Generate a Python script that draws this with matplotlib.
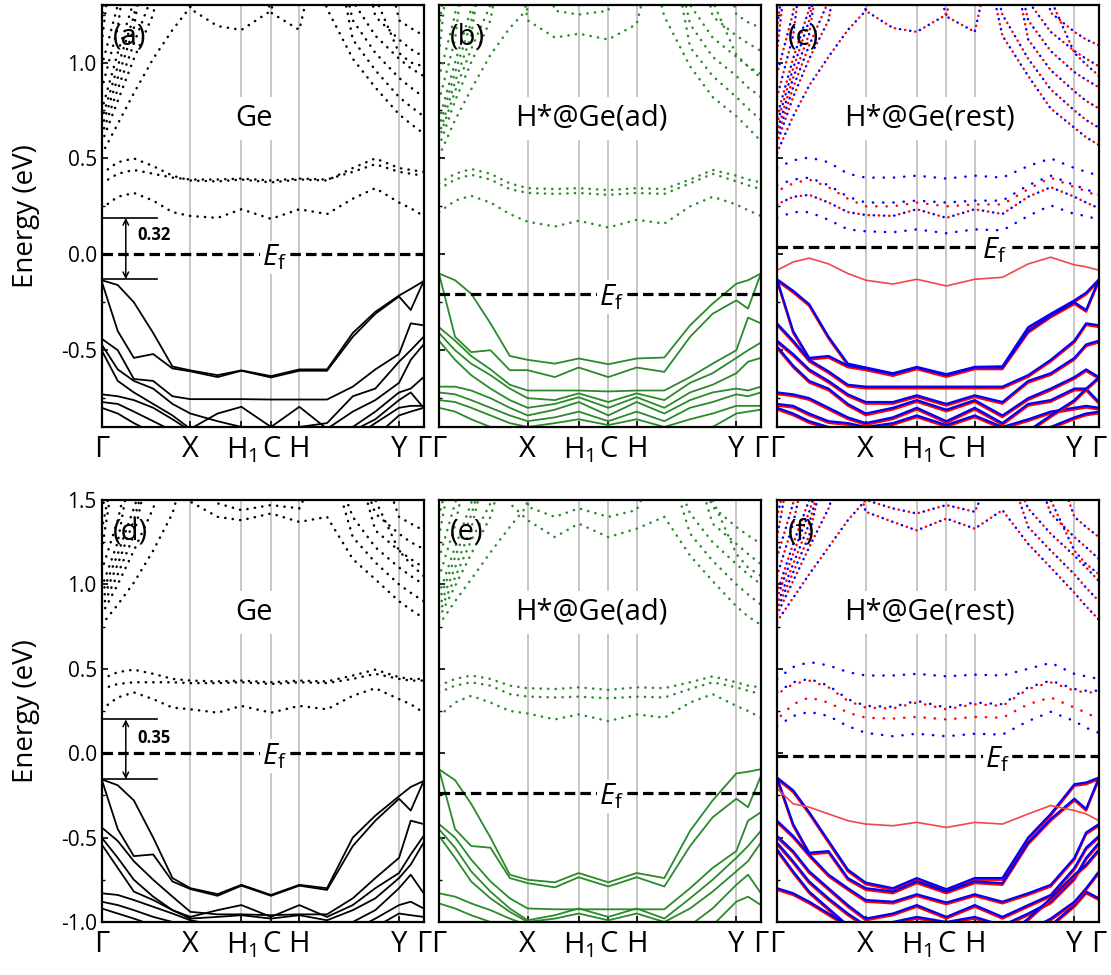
import matplotlib
matplotlib.use('Agg')
import matplotlib.pyplot as plt
import matplotlib.ticker as mticker
from matplotlib.transforms import offset_copy

plt.rcParams['font.family'] = ['Open Sans', 'DejaVu Sans']
plt.rcParams['mathtext.fontset'] = 'custom'
plt.rcParams['mathtext.rm'] = 'Open Sans'
plt.rcParams['mathtext.it'] = 'Open Sans:italic'
plt.rcParams['mathtext.bf'] = 'Open Sans:bold'
plt.rcParams['axes.unicode_minus'] = False

T = 1.8    # band leaves the window at the top
B = -1.1   # band leaves the window at the bottom

# k path (fraction of path length) and high-symmetry points
kpath = [0.0, 0.05, 0.10, 0.16, 0.22, 0.2755, 0.36, 0.434, 0.526, 0.614, 0.70, 0.78, 0.85, 0.9236, 0.96, 1.0]
ksym = [0.0, 0.2755, 0.434, 0.526, 0.614, 0.9236, 1.0]
klabels = ['Γ', 'X', r'H$_\mathregular{1}$', 'C', 'H', 'Y', 'Γ']

names = ['Ge', 'H*@Ge(ad)', 'H*@Ge(rest)']
tags = ['(a)', '(b)', '(c)', '(d)', '(e)', '(f)']
ef_vals = [0.0, -0.208, 0.038, 0.0, -0.238, -0.016]
ef_xpos = [0.537, 0.535, 0.675, 0.537, 0.535, 0.684]
gap_top = [-0.13, 0.19, '0.32']
gap_bot = [-0.155, 0.20, '0.35']

# ---------------- (a) Ge, top row ----------------
ge_top_val = [
    [-0.135, -0.16, -0.25, -0.41, -0.585, -0.605, -0.63, -0.605, -0.635, -0.60, -0.60, -0.41, -0.30, -0.215, -0.18, -0.14],
    [-0.14, -0.40, -0.54, -0.52, -0.595, -0.61, -0.64, -0.607, -0.642, -0.607, -0.607, -0.43, -0.31, -0.22, -0.29, -0.14],
    [-0.44, -0.50, -0.65, -0.66, -0.74, -0.755, -0.755, -0.755, -0.757, -0.757, -0.757, -0.69, -0.60, -0.52, -0.36, -0.37],
    [-0.47, -0.60, -0.66, -0.70, -0.78, -0.83, -0.87, -0.90, -0.92, -0.90, -0.88, -0.74, -0.70, -0.56, -0.50, -0.43],
    [-0.50, -0.66, -0.72, -0.78, -0.84, -0.91, -0.83, -0.795, -0.90, -0.795, -0.91, -0.82, -0.76, -0.67, -0.55, -0.47],
    [-0.73, -0.74, -0.76, -0.80, -0.86, -0.92, -0.95, -0.95, -0.95, -0.95, -0.95, -0.90, -0.82, -0.72, -0.70, -0.64],
    [-0.77, -0.78, -0.82, -0.87, -0.92, -0.96, -0.96, -0.96, -0.96, -0.96, -0.96, -0.96, -0.88, -0.80, -0.79, -0.79],
    [-0.80, -0.83, -0.88, -0.93, -0.96, -0.98, -0.98, -0.98, -0.98, -0.98, -0.98, -0.98, -0.95, -0.84, -0.82, -0.80],
    [B, B, B, B, B, B, B, B, B, B, -0.98, -0.92, -0.86, -0.76, -0.72, -0.80],
]
ge_top_gap = [
    [0.42, 0.48, 0.50, 0.46, 0.41, 0.385, 0.38, 0.39, 0.375, 0.39, 0.385, 0.45, 0.50, 0.45, 0.44, 0.43],
    [0.37, 0.42, 0.44, 0.42, 0.40, 0.39, 0.39, 0.395, 0.385, 0.395, 0.39, 0.43, 0.47, 0.43, 0.42, 0.41],
    [0.24, 0.30, 0.32, 0.28, 0.22, 0.20, 0.19, 0.235, 0.185, 0.235, 0.21, 0.29, 0.345, 0.27, 0.24, 0.20],
]
ge_top_high = [
    [0.52, 0.68, 0.84, 1.02, 1.17, 1.29, T, T, T, T, T, T, T, T, T, T],
    [0.58, 0.80, 1.02, 1.25, T, T, T, T, T, T, T, T, T, T, T, T],
    [0.62, 0.86, 1.10, 1.36, T, T, T, T, T, T, T, T, T, T, T, T],
    [0.66, 0.92, 1.18, T, T, T, T, T, T, T, T, T, T, T, T, T],
    [0.70, 0.98, 1.24, T, T, T, T, T, T, T, T, T, T, T, T, T],
    [0.75, 1.05, 1.32, T, T, T, T, T, T, T, T, T, T, T, T, T],
    [0.86, 1.18, T, T, T, T, T, T, T, T, T, T, T, T, T, T],
    [0.98, 1.30, T, T, T, T, T, T, T, T, T, T, T, T, T, T],
    [1.10, T, T, T, T, T, T, T, T, T, T, T, T, T, T, T],
    [1.22, T, T, T, T, T, T, T, T, T, T, T, T, T, T, T],
    [T, T, T, T, T, 1.28, 1.19, 1.17, 1.27, T, T, T, T, T, T, T],
    [T, T, T, T, T, T, T, T, 1.26, 1.17, T, T, T, T, T, T],
    [T, T, T, T, T, T, T, T, T, T, 1.28, 1.02, 0.87, 0.73, 0.68, 0.63],
    [T, T, T, T, T, T, T, T, T, T, T, 1.12, 0.96, 0.82, 0.77, 0.72],
    [T, T, T, T, T, T, T, T, T, T, T, 1.22, 1.05, 0.92, 0.87, 0.82],
    [T, T, T, T, T, T, T, T, T, T, T, 1.32, 1.14, 1.02, 0.97, 0.93],
    [T, T, T, T, T, T, T, T, T, T, T, T, 1.24, 1.12, 1.07, 1.03],
    [T, T, T, T, T, T, T, T, T, T, T, T, 1.34, 1.05, 1.00, 0.98],
    [T, T, T, T, T, T, T, T, T, T, T, T, T, 1.22, 1.18, 1.14],
]

# ---------------- (b) H*@Ge(ad), top row ----------------
ad_top_val = [
    [-0.10, -0.135, -0.205, -0.36, -0.53, -0.55, -0.57, -0.543, -0.573, -0.543, -0.538, -0.37, -0.257, -0.153, -0.135, -0.10],
    [-0.10, -0.43, -0.51, -0.50, -0.604, -0.604, -0.64, -0.59, -0.64, -0.59, -0.613, -0.43, -0.31, -0.24, -0.283, -0.10],
    [-0.38, -0.45, -0.53, -0.60, -0.68, -0.71, -0.71, -0.71, -0.715, -0.71, -0.71, -0.64, -0.57, -0.50, -0.33, -0.36],
    [-0.41, -0.50, -0.57, -0.63, -0.70, -0.75, -0.76, -0.725, -0.77, -0.725, -0.76, -0.67, -0.62, -0.54, -0.50, -0.46],
    [-0.45, -0.55, -0.63, -0.70, -0.76, -0.80, -0.78, -0.745, -0.80, -0.745, -0.80, -0.72, -0.68, -0.62, -0.56, -0.54],
    [-0.69, -0.69, -0.71, -0.75, -0.80, -0.84, -0.81, -0.77, -0.84, -0.77, -0.83, -0.76, -0.72, -0.70, -0.71, -0.69],
    [-0.72, -0.73, -0.76, -0.80, -0.84, -0.87, -0.85, -0.82, -0.87, -0.82, -0.87, -0.80, -0.77, -0.73, -0.74, -0.72],
    [-0.76, -0.77, -0.80, -0.84, -0.88, -0.90, -0.88, -0.86, -0.89, -0.86, -0.90, -0.86, -0.83, -0.79, -0.79, -0.79],
    [-0.80, -0.82, -0.86, -0.90, -0.93, -0.95, -0.95, -0.95, -0.95, -0.95, -0.95, -0.95, -0.90, -0.83, -0.82, -0.81],
]
ad_top_gap = [
    [0.37, 0.42, 0.445, 0.42, 0.37, 0.345, 0.34, 0.345, 0.335, 0.345, 0.34, 0.39, 0.44, 0.41, 0.39, 0.375],
    [0.34, 0.39, 0.415, 0.39, 0.34, 0.32, 0.315, 0.32, 0.31, 0.32, 0.315, 0.37, 0.42, 0.38, 0.36, 0.34],
    [0.22, 0.28, 0.305, 0.27, 0.21, 0.17, 0.145, 0.175, 0.14, 0.18, 0.16, 0.25, 0.30, 0.26, 0.23, 0.20],
]
ad_top_high = [
    [0.51, 0.70, 0.86, 1.04, 1.18, 1.28, T, T, T, T, T, T, T, T, T, T],
    [0.56, 0.80, 1.00, 1.22, T, T, T, T, T, T, T, T, T, T, T, T],
    [0.60, 0.85, 1.07, 1.30, T, T, T, T, T, T, T, T, T, T, T, T],
    [0.62, 0.90, 1.14, T, T, T, T, T, T, T, T, T, T, T, T, T],
    [0.66, 0.95, 1.21, T, T, T, T, T, T, T, T, T, T, T, T, T],
    [0.70, 1.00, 1.28, T, T, T, T, T, T, T, T, T, T, T, T, T],
    [0.80, 1.12, T, T, T, T, T, T, T, T, T, T, T, T, T, T],
    [0.92, 1.25, T, T, T, T, T, T, T, T, T, T, T, T, T, T],
    [1.05, T, T, T, T, T, T, T, T, T, T, T, T, T, T, T],
    [1.18, T, T, T, T, T, T, T, T, T, T, T, T, T, T, T],
    [T, T, T, T, T, 1.22, 1.13, 1.15, 1.12, 1.20, T, T, T, T, T, T],
    [T, T, T, T, T, T, 1.27, 1.25, 1.27, T, T, T, T, T, T, T],
    [T, T, T, T, T, T, T, T, T, T, 1.24, 0.98, 0.82, 0.72, 0.66, 0.59],
    [T, T, T, T, T, T, T, T, T, T, T, 1.08, 0.93, 0.82, 0.76, 0.70],
    [T, T, T, T, T, T, T, T, T, T, T, 1.20, 1.03, 0.93, 0.87, 0.82],
    [T, T, T, T, T, T, T, T, T, T, T, 1.30, 1.13, 1.03, 0.98, 0.94],
    [T, T, T, T, T, T, T, T, T, T, T, T, 1.24, 1.14, 1.10, 1.06],
    [T, T, T, T, T, T, T, T, T, T, T, T, 1.32, 1.04, 0.98, 0.92],
    [T, T, T, T, T, T, T, T, T, T, T, T, T, 1.25, 1.21, 1.18],
]

# ---------------- (c) H*@Ge(rest), top row ----------------
rest_top_val = [
    [-0.13, -0.19, -0.26, -0.43, -0.57, -0.59, -0.62, -0.587, -0.625, -0.587, -0.584, -0.38, -0.31, -0.24, -0.20, -0.13],
    [-0.13, -0.40, -0.54, -0.53, -0.58, -0.595, -0.625, -0.59, -0.63, -0.59, -0.59, -0.40, -0.32, -0.25, -0.29, -0.13],
    [-0.36, -0.45, -0.55, -0.61, -0.68, -0.69, -0.69, -0.69, -0.69, -0.69, -0.69, -0.63, -0.55, -0.45, -0.36, -0.37],
    [-0.45, -0.52, -0.60, -0.66, -0.73, -0.77, -0.77, -0.735, -0.78, -0.735, -0.77, -0.66, -0.62, -0.54, -0.47, -0.45],
    [-0.48, -0.58, -0.66, -0.70, -0.78, -0.83, -0.80, -0.76, -0.81, -0.76, -0.84, -0.75, -0.70, -0.64, -0.60, -0.64],
    [-0.72, -0.73, -0.75, -0.80, -0.85, -0.88, -0.85, -0.80, -0.87, -0.80, -0.88, -0.78, -0.76, -0.70, -0.70, -0.77],
    [-0.78, -0.79, -0.83, -0.87, -0.88, -0.90, -0.88, -0.84, -0.89, -0.84, -0.90, -0.86, -0.82, -0.80, -0.79, -0.80],
    [-0.80, -0.83, -0.87, -0.90, -0.92, -0.95, -0.95, -0.95, -0.95, -0.95, -0.95, -0.95, -0.90, -0.85, -0.83, -0.82],
    [B, B, B, B, B, B, B, B, B, B, -0.95, -0.92, -0.84, -0.76, -0.70, -0.64],
]
rest_top_defect = [-0.083, -0.04, -0.02, -0.05, -0.10, -0.135, -0.155, -0.13, -0.165, -0.13, -0.12, -0.05, -0.015, -0.055, -0.065, -0.083]
rest_top_gap_blue = [
    [0.45, 0.49, 0.505, 0.48, 0.42, 0.40, 0.40, 0.41, 0.395, 0.41, 0.40, 0.46, 0.50, 0.45, 0.43, 0.41],
    [0.36, 0.39, 0.40, 0.36, 0.30, 0.27, 0.27, 0.28, 0.27, 0.28, 0.28, 0.36, 0.41, 0.36, 0.34, 0.31],
    [0.26, 0.30, 0.31, 0.27, 0.22, 0.205, 0.20, 0.235, 0.19, 0.235, 0.21, 0.30, 0.35, 0.30, 0.27, 0.24],
    [0.19, 0.22, 0.22, 0.18, 0.13, 0.12, 0.115, 0.13, 0.11, 0.13, 0.125, 0.20, 0.255, 0.21, 0.20, 0.18],
]
rest_top_gap_red = [
    [0.33, 0.37, 0.39, 0.35, 0.29, 0.25, 0.25, 0.27, 0.25, 0.26, 0.26, 0.34, 0.40, 0.35, 0.33, 0.30],
    [0.26, 0.30, 0.31, 0.27, 0.22, 0.205, 0.20, 0.235, 0.19, 0.235, 0.21, 0.30, 0.35, 0.30, 0.27, 0.24],
]
rest_top_high = [
    [0.53, 0.72, 0.88, 1.03, 1.17, 1.27, T, T, T, T, T, T, T, T, T, T],
    [0.58, 0.82, 1.02, 1.22, T, T, T, T, T, T, T, T, T, T, T, T],
    [0.61, 0.87, 1.09, 1.32, T, T, T, T, T, T, T, T, T, T, T, T],
    [0.64, 0.92, 1.15, T, T, T, T, T, T, T, T, T, T, T, T, T],
    [0.68, 0.97, 1.22, T, T, T, T, T, T, T, T, T, T, T, T, T],
    [0.72, 1.02, 1.28, T, T, T, T, T, T, T, T, T, T, T, T, T],
    [0.82, 1.14, T, T, T, T, T, T, T, T, T, T, T, T, T, T],
    [0.94, 1.26, T, T, T, T, T, T, T, T, T, T, T, T, T, T],
    [1.06, T, T, T, T, T, T, T, T, T, T, T, T, T, T, T],
    [1.18, T, T, T, T, T, T, T, T, T, T, T, T, T, T, T],
    [T, T, T, T, T, 1.27, 1.18, 1.16, 1.25, T, T, T, T, T, T, T],
    [T, T, T, T, T, T, T, T, 1.24, 1.16, T, T, T, T, T, T],
    [T, T, T, T, T, T, T, T, T, T, 1.14, 0.93, 0.76, 0.66, 0.61, 0.57],
    [T, T, T, T, T, T, T, T, T, T, 1.25, 1.02, 0.86, 0.75, 0.70, 0.66],
    [T, T, T, T, T, T, T, T, T, T, T, 1.12, 0.96, 0.85, 0.80, 0.76],
    [T, T, T, T, T, T, T, T, T, T, T, 1.22, 1.06, 0.95, 0.91, 0.87],
    [T, T, T, T, T, T, T, T, T, T, T, 1.32, 1.16, 1.06, 1.02, 0.98],
    [T, T, T, T, T, T, T, T, T, T, T, T, 1.26, 1.16, 1.12, 1.09],
    [T, T, T, T, T, T, T, T, T, T, T, T, 1.33, 1.05, 0.99, 0.93],
]

# ---------------- (d) Ge, bottom row ----------------
ge_bot_val = [
    [-0.155, -0.19, -0.28, -0.50, -0.74, -0.80, -0.835, -0.78, -0.84, -0.78, -0.80, -0.50, -0.37, -0.255, -0.20, -0.165],
    [-0.155, -0.45, -0.61, -0.60, -0.76, -0.805, -0.845, -0.785, -0.845, -0.785, -0.81, -0.55, -0.40, -0.27, -0.34, -0.165],
    [-0.44, -0.52, -0.64, -0.75, -0.85, -0.94, -0.955, -0.955, -0.96, -0.955, -0.955, -0.86, -0.74, -0.62, -0.40, -0.42],
    [-0.50, -0.62, -0.75, -0.85, -0.93, -0.97, -0.93, -0.90, -0.97, -0.90, -0.97, -0.90, -0.80, -0.71, -0.60, -0.49],
    [-0.54, -0.68, -0.82, -0.87, -0.93, -0.98, -0.97, -0.96, -0.98, -0.96, -0.99, -0.93, -0.86, -0.74, -0.66, -0.53],
    [-0.83, -0.84, -0.87, -0.91, -0.95, -0.99, -1.02, -1.02, -1.02, -1.02, -1.02, -1.00, -0.93, -0.80, -0.72, -0.83],
    [-0.88, -0.90, -0.93, -0.97, -1.00, -1.05, -1.05, -1.05, -1.05, -1.05, -1.05, -1.05, -0.98, -0.90, -0.88, -0.92],
    [-0.92, -0.95, -0.98, -1.02, B, B, B, B, B, B, B, B, -1.03, -0.95, -0.96, -0.97],
]
ge_bot_gap = [
    [0.44, 0.48, 0.495, 0.47, 0.44, 0.43, 0.425, 0.43, 0.42, 0.43, 0.425, 0.46, 0.495, 0.45, 0.44, 0.44],
    [0.38, 0.41, 0.42, 0.42, 0.42, 0.415, 0.415, 0.42, 0.41, 0.42, 0.415, 0.44, 0.47, 0.44, 0.43, 0.43],
    [0.26, 0.33, 0.36, 0.32, 0.27, 0.26, 0.24, 0.28, 0.24, 0.28, 0.26, 0.34, 0.385, 0.32, 0.29, 0.24],
]
ge_bot_high = [
    [0.76, 0.88, 1.01, 1.20, 1.42, T, T, T, T, T, T, T, T, T, T, T],
    [0.82, 1.00, 1.20, 1.45, T, T, T, T, T, T, T, T, T, T, T, T],
    [0.86, 1.06, 1.29, T, T, T, T, T, T, T, T, T, T, T, T, T],
    [0.90, 1.12, 1.38, T, T, T, T, T, T, T, T, T, T, T, T, T],
    [0.94, 1.18, 1.45, T, T, T, T, T, T, T, T, T, T, T, T, T],
    [0.98, 1.25, T, T, T, T, T, T, T, T, T, T, T, T, T, T],
    [1.08, 1.38, T, T, T, T, T, T, T, T, T, T, T, T, T, T],
    [1.20, T, T, T, T, T, T, T, T, T, T, T, T, T, T, T],
    [1.32, T, T, T, T, T, T, T, T, T, T, T, T, T, T, T],
    [1.44, T, T, T, T, T, T, T, T, T, T, T, T, T, T, T],
    [T, T, T, T, T, 1.49, 1.40, 1.38, 1.42, 1.37, 1.40, 1.15, 1.03, 0.90, 0.85, 0.80],
    [T, T, T, T, T, T, 1.48, 1.44, 1.47, 1.45, T, T, T, T, T, T],
    [T, T, T, T, T, T, T, T, T, T, T, 1.28, 1.13, 1.00, 0.95, 0.90],
    [T, T, T, T, T, T, T, T, T, T, T, 1.40, 1.22, 1.10, 1.05, 1.00],
    [T, T, T, T, T, T, T, T, T, T, T, T, 1.32, 1.20, 1.15, 1.10],
    [T, T, T, T, T, T, T, T, T, T, T, T, 1.42, 1.30, 1.25, 1.21],
    [T, T, T, T, T, T, T, T, T, T, T, T, 1.50, 1.20, 1.12, 1.05],
    [T, T, T, T, T, T, T, T, T, T, T, T, T, 1.40, 1.36, 1.32],
]

# ---------------- (e) H*@Ge(ad), bottom row ----------------
ad_bot_val = [
    [-0.095, -0.16, -0.30, -0.50, -0.72, -0.75, -0.765, -0.71, -0.765, -0.71, -0.74, -0.46, -0.28, -0.12, -0.11, -0.095],
    [-0.095, -0.45, -0.55, -0.56, -0.74, -0.77, -0.795, -0.735, -0.79, -0.735, -0.79, -0.55, -0.38, -0.27, -0.32, -0.135],
    [-0.42, -0.50, -0.63, -0.76, -0.86, -0.92, -0.925, -0.925, -0.925, -0.925, -0.925, -0.80, -0.68, -0.58, -0.40, -0.35],
    [-0.45, -0.56, -0.70, -0.82, -0.92, -0.99, -0.96, -0.92, -0.97, -0.92, -0.98, -0.86, -0.75, -0.62, -0.55, -0.46],
    [-0.49, -0.62, -0.76, -0.86, -0.94, -1.00, -0.98, -0.95, -0.99, -0.95, -1.00, -0.92, -0.82, -0.70, -0.64, -0.53],
    [-0.83, -0.85, -0.89, -0.93, -0.98, -1.02, -1.05, -1.05, -1.05, -1.05, -1.05, -1.02, -0.92, -0.78, -0.72, -0.83],
    [-0.89, -0.92, -0.96, -1.00, -1.05, B, B, B, B, B, B, B, -1.02, -0.88, -0.85, -0.90],
]
ad_bot_gap = [
    [0.40, 0.44, 0.46, 0.44, 0.40, 0.385, 0.38, 0.39, 0.375, 0.39, 0.385, 0.42, 0.455, 0.42, 0.40, 0.39],
    [0.36, 0.40, 0.42, 0.40, 0.35, 0.335, 0.33, 0.335, 0.325, 0.335, 0.33, 0.38, 0.42, 0.39, 0.37, 0.35],
    [0.22, 0.30, 0.34, 0.30, 0.25, 0.235, 0.20, 0.23, 0.19, 0.23, 0.21, 0.30, 0.35, 0.28, 0.25, 0.21],
]
ad_bot_high = [
    [0.76, 0.90, 1.03, 1.19, 1.34, 1.47, T, T, T, T, T, T, T, T, T, T],
    [0.80, 0.99, 1.18, 1.40, T, T, T, T, T, T, T, T, T, T, T, T],
    [0.83, 1.04, 1.26, 1.48, T, T, T, T, T, T, T, T, T, T, T, T],
    [0.86, 1.10, 1.33, T, T, T, T, T, T, T, T, T, T, T, T, T],
    [0.90, 1.16, 1.41, T, T, T, T, T, T, T, T, T, T, T, T, T],
    [0.94, 1.22, 1.48, T, T, T, T, T, T, T, T, T, T, T, T, T],
    [1.04, 1.35, T, T, T, T, T, T, T, T, T, T, T, T, T, T],
    [1.15, 1.48, T, T, T, T, T, T, T, T, T, T, T, T, T, T],
    [1.28, T, T, T, T, T, T, T, T, T, T, T, T, T, T, T],
    [1.40, T, T, T, T, T, T, T, T, T, T, T, T, T, T, T],
    [T, T, T, T, 1.48, 1.38, 1.28, 1.36, 1.28, 1.33, 1.40, 1.17, 1.02, 0.87, 0.81, 0.76],
    [T, T, T, T, T, 1.46, 1.40, 1.45, 1.40, 1.44, T, T, T, T, T, T],
    [T, T, T, T, T, T, T, T, T, T, T, 1.30, 1.14, 1.00, 0.94, 0.88],
    [T, T, T, T, T, T, T, T, T, T, T, 1.42, 1.25, 1.12, 1.06, 1.00],
    [T, T, T, T, T, T, T, T, T, T, T, T, 1.36, 1.24, 1.18, 1.12],
    [T, T, T, T, T, T, T, T, T, T, T, T, 1.46, 1.34, 1.29, 1.24],
    [T, T, T, T, T, T, T, T, T, T, T, T, 1.50, 1.18, 1.10, 1.05],
]

# ---------------- (f) H*@Ge(rest), bottom row ----------------
rest_bot_val = [
    [-0.144, -0.22, -0.35, -0.52, -0.69, -0.767, -0.80, -0.74, -0.806, -0.74, -0.74, -0.50, -0.36, -0.184, -0.174, -0.144],
    [-0.144, -0.42, -0.59, -0.58, -0.74, -0.80, -0.82, -0.76, -0.82, -0.76, -0.77, -0.53, -0.39, -0.27, -0.33, -0.144],
    [-0.40, -0.49, -0.60, -0.72, -0.80, -0.87, -0.88, -0.836, -0.885, -0.836, -0.88, -0.83, -0.78, -0.62, -0.47, -0.42],
    [-0.49, -0.58, -0.70, -0.80, -0.90, -0.98, -0.95, -0.90, -0.97, -0.90, -0.97, -0.90, -0.84, -0.68, -0.56, -0.49],
    [-0.53, -0.64, -0.76, -0.86, -0.95, -1.02, -1.00, -0.97, -1.00, -0.97, -1.02, -0.95, -0.88, -0.74, -0.62, -0.53],
    [-0.57, -0.70, -0.82, -0.92, -1.02, B, B, B, B, B, B, -0.98, -0.86, -0.72, -0.66, -0.57],
    [-0.80, -0.83, -0.88, -0.95, -1.02, B, B, B, B, B, B, B, -1.02, -0.90, -0.82, -0.86],
    [B, B, B, B, B, B, B, B, B, B, B, -1.05, -0.98, -0.88, -0.80, -0.70],
]
rest_bot_defect = [-0.21, -0.30, -0.32, -0.36, -0.40, -0.42, -0.43, -0.41, -0.44, -0.41, -0.42, -0.36, -0.31, -0.34, -0.36, -0.40]
rest_bot_gap_blue = [
    [0.44, 0.51, 0.54, 0.52, 0.48, 0.46, 0.46, 0.47, 0.455, 0.465, 0.46, 0.50, 0.535, 0.47, 0.455, 0.44],
    [0.36, 0.42, 0.44, 0.40, 0.32, 0.28, 0.275, 0.31, 0.27, 0.30, 0.29, 0.39, 0.43, 0.38, 0.37, 0.37],
    [0.16, 0.22, 0.245, 0.22, 0.16, 0.12, 0.10, 0.115, 0.10, 0.115, 0.11, 0.19, 0.245, 0.19, 0.15, 0.12],
]
rest_bot_gap_red = [
    [0.35, 0.41, 0.43, 0.39, 0.31, 0.27, 0.265, 0.30, 0.26, 0.29, 0.28, 0.38, 0.42, 0.37, 0.36, 0.36],
    [0.20, 0.29, 0.33, 0.30, 0.24, 0.21, 0.205, 0.215, 0.20, 0.215, 0.21, 0.29, 0.33, 0.27, 0.24, 0.20],
]
rest_bot_high = [
    [0.78, 0.92, 1.06, 1.22, 1.38, 1.50, T, T, T, T, T, T, T, T, T, T],
    [0.82, 1.02, 1.22, 1.45, T, T, T, T, T, T, T, T, T, T, T, T],
    [0.85, 1.07, 1.29, T, T, T, T, T, T, T, T, T, T, T, T, T],
    [0.88, 1.12, 1.36, T, T, T, T, T, T, T, T, T, T, T, T, T],
    [0.92, 1.18, 1.43, T, T, T, T, T, T, T, T, T, T, T, T, T],
    [0.95, 1.24, 1.50, T, T, T, T, T, T, T, T, T, T, T, T, T],
    [1.05, 1.36, T, T, T, T, T, T, T, T, T, T, T, T, T, T],
    [1.16, 1.48, T, T, T, T, T, T, T, T, T, T, T, T, T, T],
    [1.28, T, T, T, T, T, T, T, T, T, T, T, T, T, T, T],
    [1.40, T, T, T, T, T, T, T, T, T, T, T, T, T, T, T],
    [T, T, T, T, T, 1.43, 1.37, 1.32, 1.39, 1.33, 1.44, 1.24, 1.10, 0.95, 0.87, 0.79],
    [T, T, T, T, T, 1.50, 1.45, 1.42, 1.47, 1.43, T, T, T, T, T, T],
    [T, T, T, T, T, T, T, T, T, T, T, 1.34, 1.20, 1.06, 0.98, 0.90],
    [T, T, T, T, T, T, T, T, T, T, T, 1.45, 1.30, 1.17, 1.10, 1.02],
    [T, T, T, T, T, T, T, T, T, T, T, T, 1.42, 1.28, 1.22, 1.15],
    [T, T, T, T, T, T, T, T, T, T, T, T, 1.50, 1.20, 1.12, 1.06],
    [T, T, T, T, T, T, T, T, T, T, T, T, T, 1.40, 1.34, 1.28],
]

GREEN = '#2a8a2a'
GRID = '#c8c8c8'
DOT = (0, (0.1, 2.9))
DOT_B = (0, (0.1, 4.0))
DOT_R = (2.05, (0.1, 4.0))

fig = plt.figure(figsize=(11.11, 9.75), dpi=100)
lefts = [0.0915, 0.3951, 0.6994]
bottoms = [0.5621, 0.0544]
W, H = 0.2898, 0.4328

panels = [
    (ge_top_val, ge_top_gap, ge_top_high, None, None),
    (ad_top_val, ad_top_gap, ad_top_high, None, None),
    (rest_top_val, rest_top_gap_blue, rest_top_high, rest_top_defect, rest_top_gap_red),
    (ge_bot_val, ge_bot_gap, ge_bot_high, None, None),
    (ad_bot_val, ad_bot_gap, ad_bot_high, None, None),
    (rest_bot_val, rest_bot_gap_blue, rest_bot_high, rest_bot_defect, rest_bot_gap_red),
]

for i, (val, gap, high, defect, gap_red) in enumerate(panels):
    row, col = divmod(i, 3)
    ax = fig.add_axes([lefts[col], bottoms[row], W, H])

    for k in ksym[1:-1]:
        ax.axvline(k, color=GRID, lw=1.4, zorder=0)

    if col < 2:
        c = 'k' if col == 0 else GREEN
        for e in val:
            ax.plot(kpath, e, color=c, lw=1.3, zorder=2)
        for e in gap + high:
            ax.plot(kpath, e, color=c, lw=1.8, ls=DOT, dash_capstyle='round', zorder=2)
    else:
        tr_red = offset_copy(ax.transData, fig=fig, x=0, y=-1.6, units='dots')
        for e in val:
            ax.plot(kpath, e, color='red', lw=1.8, transform=tr_red, zorder=2)
            ax.plot(kpath, e, color='blue', lw=1.6, zorder=2)
        ax.plot(kpath, defect, color='#f04848', lw=1.2, zorder=2)
        for e in gap_red:
            ax.plot(kpath, e, color='red', lw=1.8, ls=DOT_R, dash_capstyle='round', zorder=2)
        for e in gap:
            ax.plot(kpath, e, color='blue', lw=1.8, ls=DOT_B, dash_capstyle='round', zorder=2)
        for e in high:
            ax.plot(kpath, e, color='red', lw=1.8, ls=DOT_R, dash_capstyle='round', zorder=2)
            ax.plot(kpath, e, color='blue', lw=1.8, ls=DOT_B, dash_capstyle='round', zorder=2)

    ef = ef_vals[i]
    ax.axhline(ef, color='k', lw=2.3, ls=(0, (3.3, 1.6)), zorder=3)
    ax.annotate(r'$E_\mathrm{f}$', xy=(ef_xpos[i], ef), xytext=(0, -8), textcoords='offset points',
                ha='center', va='baseline', fontsize=21, zorder=5,
                bbox=dict(fc='white', ec='none', pad=1.5))

    ax.text(0.472, 0.71 if row == 0 else 0.835, names[col], ha='center', va='center',
            fontsize=21, zorder=5, bbox=dict(fc='white', ec='none', pad=5))
    ax.text(0.035, 0.925, tags[i], transform=ax.transAxes, ha='left', va='center', fontsize=21, zorder=5)

    if col == 0:
        g = gap_top if row == 0 else gap_bot
        ax.plot([0, 0.173], [g[0], g[0]], color='k', lw=1.2, zorder=4)
        ax.plot([0, 0.173], [g[1], g[1]], color='k', lw=1.2, zorder=4)
        ax.annotate('', xy=(0.075, g[0]), xytext=(0.075, g[1]),
                    arrowprops=dict(arrowstyle='<->', lw=1.1, color='k', shrinkA=0, shrinkB=0,
                                    mutation_scale=10), zorder=4)
        ax.text(0.11, (g[0] + g[1]) / 2 + 0.07, g[2], fontsize=12, fontweight='bold',
                ha='left', va='center', zorder=5)

    ax.set_xticks(ksym)
    ax.set_xticklabels(klabels, fontsize=21)
    if row == 0:
        ax.set_yticks([-0.5, 0.0, 0.5, 1.0])
        ax.set_yticks([-0.75, -0.25, 0.25, 0.75, 1.25], minor=True)
        ax.set_ylim(-0.9, 1.3)
    else:
        ax.set_yticks([-1.0, -0.5, 0.0, 0.5, 1.0, 1.5])
        ax.set_yticks([-0.75, -0.25, 0.25, 0.75, 1.25], minor=True)
        ax.set_ylim(-1.0, 1.5)
    ax.set_xlim(0, 1)
    ax.tick_params(axis='both', direction='in', length=4, width=1.2)
    ax.tick_params(axis='y', which='minor', direction='in', length=2.5, width=1.0)
    ax.tick_params(axis='x', pad=6)
    ax.tick_params(axis='y', labelsize=15)
    if col == 0:
        ax.yaxis.set_major_formatter(mticker.FormatStrFormatter('%.1f'))
        ax.set_ylabel('Energy (eV)', fontsize=20)
        ax.yaxis.set_label_coords(-0.19, 0.5)
    else:
        ax.tick_params(labelleft=False)
    for s in ax.spines.values():
        s.set_linewidth(1.6)

fig.savefig('out.png', dpi=100)
